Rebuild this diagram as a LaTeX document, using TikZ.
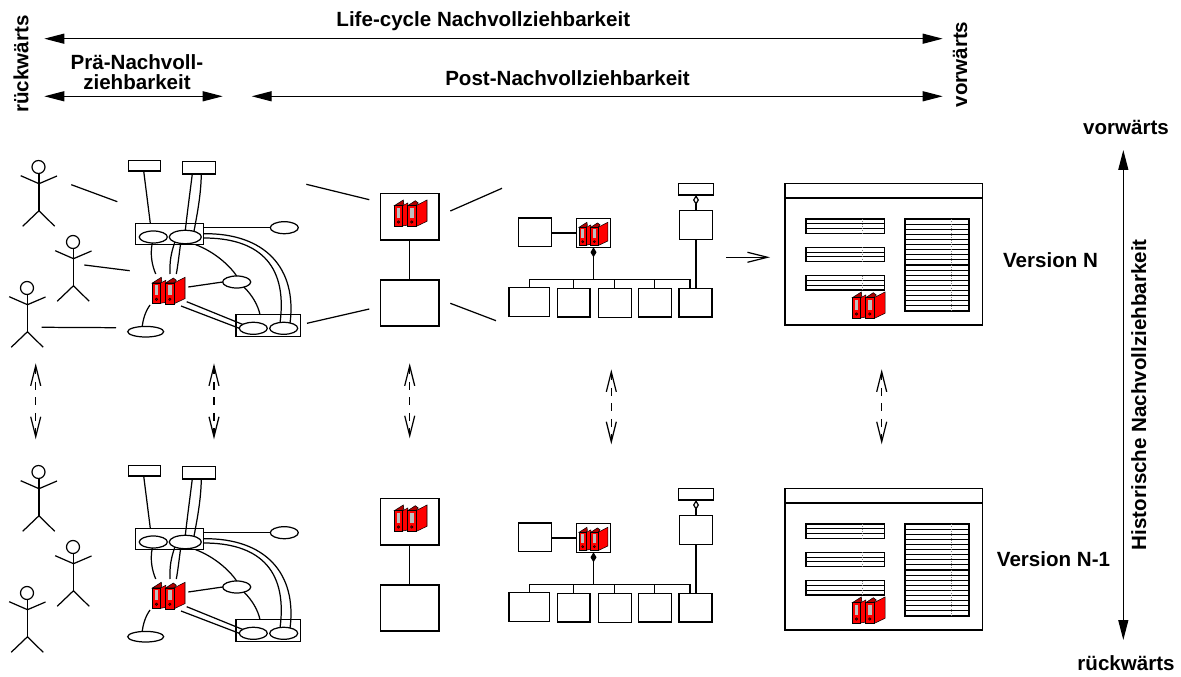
\documentclass[tikz,border=0pt]{standalone}
\usepackage{fontspec}
\setmainfont{Liberation Sans}
\usetikzlibrary{arrows.meta,shapes.geometric}
\begin{document}
\begin{tikzpicture}[x=0.2mm,y=-0.2mm,line width=0.7pt]
\tikzstyle{every node}+=[inner sep=0pt,outer sep=0pt]
\tikzstyle{lbl}=[font=\bfseries\fontsize{11.7}{11.2}\selectfont,align=center,anchor=base]
\tikzstyle{bigarr}=[{Triangle[length=4mm,width=2mm]}-{Triangle[length=4mm,width=2mm]}]
\tikzstyle{hist}=[dash pattern=on 1.6mm off 1.5mm,{Straight Barb[length=4mm,width=2mm]}-{Straight Barb[length=4mm,width=2mm]}]
\tikzset{
  box/.style 2 args={draw,fill=white,minimum width=#1*0.2mm,minimum height=#2*0.2mm},
  oval/.style 2 args={draw,fill=white,ellipse,minimum width=#1*0.2mm,minimum height=#2*0.2mm},
  pics/actor/.style={code={
    \draw (0,0) circle (6.5);
    \draw (0.5,6.5) -- (0.5,43.7);
    \draw (-17.8,8.7) -- (0.5,16.7) -- (18.5,9);
    \draw (-15.8,59.3) -- (0.5,43.7) -- (16.2,59.3);
  }},
  pics/folder/.style={code={
    \begin{scope}[line width=0.3pt]
    \filldraw [fill=red!70!black] (0,5.7) -- (9,0) -- (9.5,3.5) -- (8.3,5.7) -- cycle;
    \filldraw [fill=red] (8.3,5.7) -- (13.5,3) -- (13.5,25) -- (8.3,26) -- cycle;
    \filldraw [fill=red!70!black] (13.3,5.7) -- (21,0.7) -- (24,3) -- (21.7,5.7) -- cycle;
    \filldraw [fill=red] (21.7,5.7) -- (32.7,0) -- (32.7,21.3) -- (21.7,26.5) -- cycle;
    \filldraw [fill=red] (0,5.7) rectangle (8.3,26.3);
    \filldraw [fill=red] (13.3,5.7) rectangle (21.7,26.5);
    \fill [gray!50] (2.3,7.7) rectangle (6,18);
    \fill [gray!50] (15.6,7.7) rectangle (19.3,18);
    \filldraw [fill=red!60!black] (4.2,22) circle (1.2);
    \filldraw [fill=red!60!black] (17.5,22) circle (1.2);
    \end{scope}
  }},
  pics/rowlist/.style n args={4}{code={
    \draw (0,0) rectangle (#1,#2);
    \foreach \i in {1,...,#3}
      \draw [line width=0.6pt] (0,\i*#4) -- (#1,\i*#4);
    \draw [gray,densely dotted,line width=0.3pt] (#1*0.72,0) -- (#1*0.72,#2);
  }},
}
\useasboundingbox (0,0) rectangle (1181,677);

\node [lbl] (lblLife) at (483.3,26.7) {Life-cycle Nachvollziehbarkeit};
\node [lbl,anchor=center] (lblPre) at (137,72) {Prä-Nachvoll-\\ziehbarkeit};
\node [lbl] (lblPost) at (567.5,85.3) {Post-Nachvollziehbarkeit};
\node [lbl,rotate=90] (lblBack) at (28.3,64) {rückwärts};
\node [lbl,rotate=90] (lblFwd) at (967,64.5) {vorwärts};
\node [lbl] (lblUp) at (1126,134.3) {vorwärts};
\node [lbl] (lblDown) at (1126,670.7) {rückwärts};
\node [lbl] (lblN) at (1050.5,267.7) {Version N};
\node [lbl] (lblNm) at (1053.5,566.7) {Version N-1};
\node [lbl,rotate=90] (lblHist) at (1146.2,394.7) {Historische Nachvollziehbarkeit};

\coordinate (lifeL) at (44.3,38.7);
\coordinate (lifeR) at (942.7,38.7);
\coordinate (preL) at (44.3,96.3);
\coordinate (preR) at (222.7,96.3);
\coordinate (postL) at (251.7,96.3);
\coordinate (postR) at (942.7,96.3);
\coordinate (histT) at (1123.3,150);
\coordinate (histB) at (1123.3,640);
\draw [bigarr] (lifeL) -- (lifeR);
\draw [bigarr] (preL) -- (preR);
\draw [bigarr] (postL) -- (postR);
\draw [bigarr] (histT) -- (histB);

\foreach \v/\dy in {a/0,b/305} {
\begin{scope}[shift={(0,\dy)}]
\pic at (38.5,167) {actor};
\pic at (73,242) {actor};
\pic at (27,288) {actor};

\node [box={32}{10.3}] (rA\v) at (144.7,165.9) {};
\node [box={33}{12.7}] (rB\v) at (198.8,167.7) {};
\node [box={68}{21.4}] (gA\v) at (169.7,234) {};
\node [box={64.3}{21.6}] (gB\v) at (268.2,325.5) {};
\node [oval={28}{12}] (eA\v) at (153.3,237) {};
\node [oval={32}{13.4}] (eB\v) at (185.3,237) {};
\node [oval={28}{12}] (eC\v) at (284.3,227.7) {};
\node [oval={28}{12}] (eD\v) at (236.7,282) {};
\node [oval={36}{10.6}] (eE\v) at (145.7,331.7) {};
\node [oval={28}{12}] (eF\v) at (253.3,328.3) {};
\node [oval={28}{12}] (eG\v) at (283.7,328.3) {};
\node [minimum width=8mm,minimum height=6.4mm] (fold\v) at (169,290) {};
\pic at (152.3,277.3) {folder};

\draw ([shift={(-1,0)}]rA\v.south) -- ([shift={(-19.4,0)}]gA\v.north);
\draw ([shift={(-6.5,0)}]rB\v.south) .. controls (189,200) and (187,215) .. (eB\v.north);
\draw ([shift={(2.5,0)}]rB\v.south) .. controls (201,195) and (197,215) .. (eB\v.33);
\draw (eC\v.west -| gA\v.east) -- (eC\v.west);
\draw ([shift={(0,-0.3)}]gA\v.east) .. controls (265,233) and (297,268) .. (eG\v.40);
\draw ([shift={(0,4)}]gA\v.east) .. controls (256,238) and (288,262) .. (eG\v.122);
\draw ([shift={(26,0)}]gA\v.south) .. controls (215,252) and (230,266) .. (eD\v.north);
\draw (eD\v.-35) .. controls (252,295) and (258,305) .. ([shift={(-8.2,0)}]gB\v.north);
\draw (eA\v.-100) .. controls (150,255) and (152,265) .. ([shift={(-13.3,0)}]fold\v.north);
\draw (eB\v.-154) .. controls (171,253) and (169.5,262) .. ([shift={(1,0)}]fold\v.north);
\draw (eB\v.234) .. controls (179,255) and (178,265) .. ([shift={(7.3,0)}]fold\v.north);
\draw ([shift={(-0.7,-3)}]fold\v.east) -- (eD\v.west);
\draw ([shift={(1,-1)}]fold\v.south west) .. controls (145,312) and (143,320) .. (eE\v.124);
\draw ([shift={(-2.3,-4.3)}]fold\v.south east) -- (eF\v.160);
\draw ([shift={(-8,0)}]fold\v.south east) -- (eF\v.west);

\node [box={58.3}{46.3}] (mA\v) at (409.85,216.85) {};
\node [box={58.3}{46}] (mB\v) at (409.85,303) {};
\pic at (394.3,200) {folder};
\draw (mA\v.south) -- (mB\v.north);

\node [box={33}{28.7}] (uA\v) at (535.2,232.35) {};
\node [box={33.6}{28.6}] (uB\v) at (593.5,233) {};
\pic [scale=0.88] at (579,222.3) {folder};
\node [box={32.6}{28.6}] (uC\v) at (696,225) {};
\node [box={34.6}{11.3}] (uD\v) at (696,189.35) {};
\node [box={40.7}{29}] (vA\v) at (529.35,302.2) {};
\node [box={32.7}{28.7}] (vB\v) at (573.65,302.65) {};
\node [box={33}{28.7}] (vC\v) at (614.8,303) {};
\node [box={33}{28.7}] (vD\v) at (654.8,302.65) {};
\node [box={33}{28.7}] (vE\v) at (695.5,302.65) {};
\coordinate (bus\v) at (690,279.3);
\draw (uA\v.east |- uB\v.west) -- (uB\v.west);
\draw (vA\v.north) |- (bus\v) -- (bus\v |- vE\v.north);
\draw (vB\v.north) -- (vB\v.north |- bus\v);
\draw (vC\v.north) -- (vC\v.north |- bus\v);
\draw (vD\v.north) -- (vD\v.north |- bus\v);
\draw [{Diamond[length=2mm,width=1.2mm]}-] (uB\v.south) -- (uB\v.south |- bus\v);
\draw [{Diamond[open,length=2mm,width=1.2mm]}-] (uD\v.south) -- (uC\v.north);
\draw (uC\v.south) -- (vE\v.north -| uC\v.south);

\node [box={197.7}{141.3}] (win\v) at (883.85,254.35) {};
\node [box={197.7}{14.3}] (bar\v) at (883.85,190.85) {};
\pic at (806,219) {rowlist={78.3}{14.3}{2}{4.8}};
\pic at (806,247.3) {rowlist={78.3}{14.3}{2}{4.8}};
\pic at (806,275.7) {rowlist={78.3}{14.3}{2}{4.8}};
\pic at (905,219) {rowlist={64}{92}{17}{5.11}};
\pic at (852.3,292) {folder};
\end{scope}
}

\coordinate (actA) at (71.3,184.7);
\coordinate (actAe) at (117.3,201.7);
\coordinate (actB) at (84.3,265);
\coordinate (actBe) at (129.7,270.7);
\coordinate (actC) at (41.7,327.3);
\coordinate (actCe) at (116,327.7);
\draw (actA) -- (actAe);
\draw (actB) -- (actBe);
\draw (actC) -- (actCe);
\coordinate (mapA) at (306.3,184.3);
\coordinate (mapAe) at (369.3,199.7);
\coordinate (mapB) at (307,323.3);
\coordinate (mapBe) at (369.3,309);
\coordinate (mapC) at (450.3,211);
\coordinate (mapCe) at (502,188.3);
\coordinate (mapD) at (450.3,303.3);
\coordinate (mapDe) at (496,320.7);
\draw (mapA) -- (mapAe);
\draw (mapB) -- (mapBe);
\draw (mapC) -- (mapCe);
\draw (mapD) -- (mapDe);
\coordinate (toWin) at (726,257.3);
\coordinate (toWine) at (770,257.3);
\draw [-{Straight Barb[length=4mm,width=2mm]}] (toWin) -- (toWine);

\coordinate (hA) at (35.7,363.3);
\coordinate (hAe) at (35.7,439.3);
\coordinate (hB) at (214,363.3);
\coordinate (hBe) at (214,439.3);
\coordinate (hC) at (409.7,363.3);
\coordinate (hCe) at (409.7,438.3);
\coordinate (hD) at (611.3,369.3);
\coordinate (hDe) at (611.3,444.3);
\coordinate (hE) at (881.7,369.3);
\coordinate (hEe) at (881.7,444.3);
\draw [hist] (hA) -- (hAe);
\draw [hist] (hB) -- (hBe);
\draw [hist] (hC) -- (hCe);
\draw [hist] (hD) -- (hDe);
\draw [hist] (hE) -- (hEe);
\end{tikzpicture}
\end{document}
